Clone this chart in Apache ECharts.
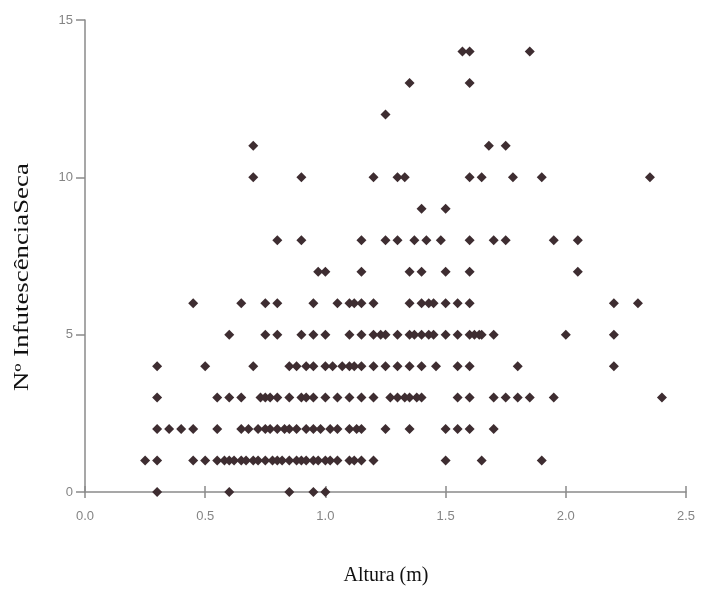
<!DOCTYPE html>
<html>
<head>
<meta charset="utf-8">
<script src="https://cdn.jsdelivr.net/npm/echarts@6/dist/echarts.min.js"></script>
<style>
  html, body { margin: 0; padding: 0; background: #ffffff; }
  #chart { width: 702px; height: 605px; }
</style>
</head>
<body>
<div id="chart"></div>
<script>
// Altura (m) values observed for each count of "Nº InfutescênciaSeca"
const count0  = [0.3, 0.6, 0.85, 0.95, 1.0];
const count1  = [0.25, 0.3, 0.45, 0.5, 0.55, 0.58, 0.6, 0.62, 0.65, 0.67, 0.7, 0.72, 0.75, 0.78, 0.8, 0.82, 0.85, 0.88, 0.9, 0.92, 0.95, 0.97, 1.0, 1.02, 1.05, 1.1, 1.12, 1.15, 1.2, 1.5, 1.65, 1.9];
const count2  = [0.3, 0.35, 0.4, 0.45, 0.55, 0.65, 0.68, 0.72, 0.75, 0.77, 0.8, 0.83, 0.85, 0.88, 0.92, 0.95, 0.98, 1.02, 1.05, 1.1, 1.13, 1.15, 1.25, 1.35, 1.5, 1.55, 1.6, 1.7];
const count3  = [0.3, 0.55, 0.6, 0.65, 0.73, 0.75, 0.77, 0.8, 0.85, 0.9, 0.92, 0.95, 1.0, 1.05, 1.1, 1.15, 1.2, 1.27, 1.3, 1.33, 1.35, 1.38, 1.4, 1.55, 1.6, 1.7, 1.75, 1.8, 1.85, 1.95, 2.4];
const count4  = [0.3, 0.5, 0.7, 0.85, 0.88, 0.92, 0.95, 1.0, 1.03, 1.07, 1.1, 1.12, 1.15, 1.2, 1.25, 1.3, 1.35, 1.4, 1.46, 1.55, 1.6, 1.8, 2.2];
const count5  = [0.6, 0.75, 0.8, 0.9, 0.95, 1.0, 1.1, 1.15, 1.2, 1.23, 1.25, 1.3, 1.35, 1.37, 1.4, 1.43, 1.45, 1.5, 1.55, 1.6, 1.62, 1.64, 1.65, 1.7, 2.0, 2.2];
const count6  = [0.45, 0.65, 0.75, 0.8, 0.95, 1.05, 1.1, 1.12, 1.15, 1.2, 1.35, 1.4, 1.43, 1.45, 1.5, 1.55, 1.6, 2.2, 2.3];
const count7  = [0.97, 1.0, 1.15, 1.35, 1.4, 1.5, 1.6, 2.05];
const count8  = [0.8, 0.9, 1.15, 1.25, 1.3, 1.37, 1.42, 1.48, 1.6, 1.7, 1.75, 1.95, 2.05];
const count9  = [1.4, 1.5];
const count10 = [0.7, 0.9, 1.2, 1.3, 1.33, 1.6, 1.65, 1.78, 1.9, 2.35];
const count11 = [0.7, 1.68, 1.75];
const count12 = [1.25];
const count13 = [1.35, 1.6];
const count14 = [1.57, 1.6, 1.85];

const rows = [count0, count1, count2, count3, count4, count5, count6, count7,
              count8, count9, count10, count11, count12, count13, count14];

const xTicks = [0.0, 0.5, 1.0, 1.5, 2.0, 2.5];
const yTicks = [0, 5, 10, 15];

const points = [];
rows.forEach((xs, n) => xs.forEach(x => points.push([x, n])));

const chart = echarts.init(document.getElementById('chart'), null, { renderer: 'canvas' });

const axisGray = '#8a8a8a';
const labelGray = '#858585';

chart.setOption({
  animation: false,
  backgroundColor: '#ffffff',
  grid: { left: 85, right: 16, top: 20, bottom: 113, containLabel: false },
  xAxis: [
    {
      type: 'value',
      min: xTicks[0],
      max: xTicks[xTicks.length - 1],
      interval: 0.5,
      axisLine: { show: true, lineStyle: { color: axisGray, width: 1.5 } },
      axisTick: { show: true, length: 6, lineStyle: { color: axisGray, width: 1.5 } },
      axisLabel: {
        color: labelGray, fontSize: 13, fontFamily: 'Liberation Sans, Arial, sans-serif',
        margin: 18, formatter: v => v.toFixed(1)
      },
      splitLine: { show: false }
    },
    {
      type: 'value',
      position: 'bottom',
      min: xTicks[0],
      max: xTicks[xTicks.length - 1],
      interval: 0.5,
      axisLine: { show: false },
      axisTick: { show: true, inside: true, length: 6, lineStyle: { color: axisGray, width: 1.5 } },
      axisLabel: { show: false },
      splitLine: { show: false }
    }
  ],
  yAxis: {
    type: 'value',
    min: yTicks[0],
    max: yTicks[yTicks.length - 1],
    interval: 5,
    axisLine: { show: true, lineStyle: { color: axisGray, width: 1.5 } },
    axisTick: { show: true, length: 9, lineStyle: { color: axisGray, width: 1.5 } },
    axisLabel: {
      color: labelGray, fontSize: 13, fontFamily: 'Liberation Sans, Arial, sans-serif',
      margin: 12
    },
    splitLine: { show: false }
  },
  graphic: [
    {
      type: 'text',
      x: 386,
      y: 566,
      style: {
        text: 'Altura (m)',
        font: '20px "Liberation Serif", "Times New Roman", serif',
        fill: '#111111',
        textAlign: 'center',
        textVerticalAlign: 'top'
      }
    },
    {
      type: 'text',
      x: 13,
      y: 391,
      rotation: Math.PI / 2,
      scaleX: 1.34,
      style: {
        text: 'Nº InfutescênciaSeca',
        font: '20px "Liberation Serif", "Times New Roman", serif',
        fill: '#111111',
        textAlign: 'left',
        textVerticalAlign: 'top'
      }
    }
  ],
  series: [
    {
      type: 'scatter',
      xAxisIndex: 0,
      data: points,
      symbol: 'diamond',
      symbolSize: 10,
      itemStyle: { color: '#3e2d31', opacity: 1 }
    }
  ]
});
</script>
</body>
</html>
